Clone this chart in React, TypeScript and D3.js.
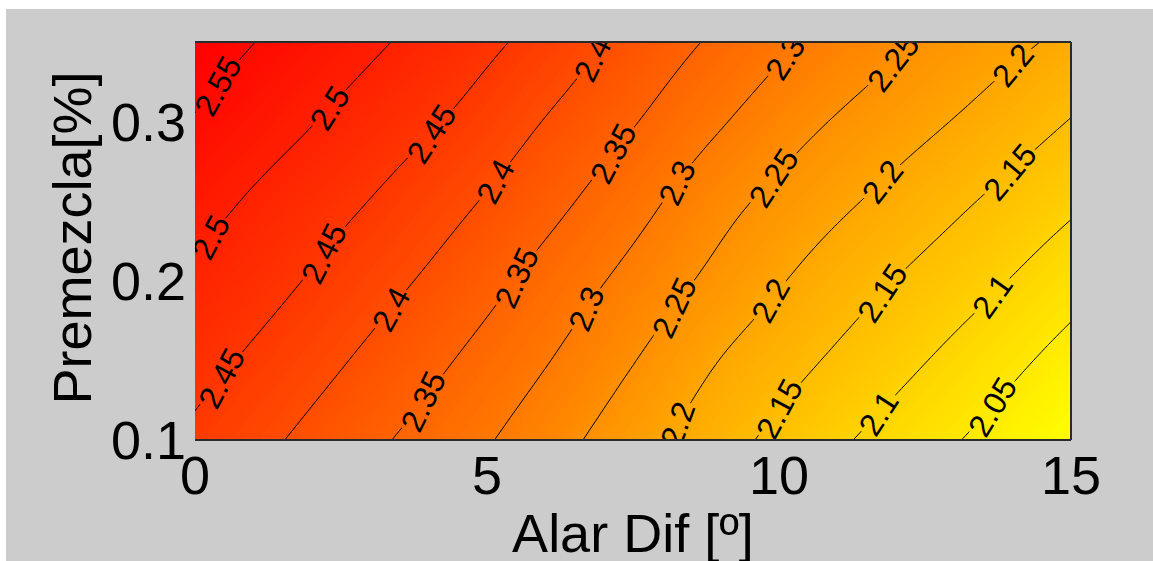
import React, { useMemo } from "react";
import * as d3 from "d3";

// Grid: Alar Dif (x) columns, Premezcla (y) rows
const xValues = [0, 1.5, 3, 4.5, 6, 7.5, 9, 10.5, 12, 13.5, 15];
const yValues = [0.1, 0.15, 0.2, 0.25, 0.3, 0.35];
const zRows = [
  [2.44, 2.401, 2.36, 2.319, 2.272, 2.22, 2.169, 2.122, 2.08, 2.04, 2.0],
  [2.467, 2.43, 2.39, 2.348, 2.303, 2.252, 2.199, 2.156, 2.115, 2.074, 2.032],
  [2.492, 2.458, 2.42, 2.379, 2.333, 2.285, 2.235, 2.189, 2.149, 2.111, 2.07],
  [2.518, 2.483, 2.449, 2.41, 2.366, 2.318, 2.266, 2.223, 2.185, 2.147, 2.109],
  [2.547, 2.513, 2.479, 2.443, 2.398, 2.353, 2.304, 2.259, 2.222, 2.186, 2.148],
  [2.572, 2.54, 2.508, 2.473, 2.432, 2.385, 2.34, 2.296, 2.258, 2.222, 2.188],
];
const contourLevels = [2.05, 2.1, 2.15, 2.2, 2.25, 2.3, 2.35, 2.4, 2.45, 2.5, 2.55];
const xTicks = [0, 5, 10, 15];
const yTicks = [0.1, 0.2, 0.3];
const xLabel = "Alar Dif [º]";
const yLabel = "Premezcla[%]";
// contour label spots (level, x, y) in data units
const labelSpots = [
  { level: 2.55, x: 0.43, y: 0.321 },
  { level: 2.5, x: 2.35, y: 0.307 },
  { level: 2.5, x: 0.29, y: 0.228 },
  { level: 2.45, x: 4.11, y: 0.29 },
  { level: 2.45, x: 2.19, y: 0.216 },
  { level: 2.45, x: 0.51, y: 0.138 },
  { level: 2.4, x: 6.93, y: 0.335 },
  { level: 2.4, x: 5.27, y: 0.259 },
  { level: 2.4, x: 3.34, y: 0.182 },
  { level: 2.35, x: 7.23, y: 0.278 },
  { level: 2.35, x: 5.62, y: 0.198 },
  { level: 2.35, x: 3.94, y: 0.122 },
  { level: 2.3, x: 10.14, y: 0.339 },
  { level: 2.3, x: 8.36, y: 0.259 },
  { level: 2.3, x: 6.76, y: 0.181 },
  { level: 2.25, x: 12.02, y: 0.334 },
  { level: 2.25, x: 9.97, y: 0.261 },
  { level: 2.25, x: 8.27, y: 0.182 },
  { level: 2.2, x: 14.08, y: 0.334 },
  { level: 2.2, x: 11.82, y: 0.261 },
  { level: 2.2, x: 9.85, y: 0.188 },
  { level: 2.2, x: 8.3, y: 0.109 },
  { level: 2.15, x: 13.96, y: 0.268 },
  { level: 2.15, x: 11.85, y: 0.19 },
  { level: 2.15, x: 9.98, y: 0.119 },
  { level: 2.1, x: 13.7, y: 0.19 },
  { level: 2.1, x: 11.73, y: 0.116 },
  { level: 2.05, x: 13.73, y: 0.119 },
];

const W = 1153;
const H = 561;
const M = { left: 195, right: 1071, top: 42, bottom: 440 };
const FONT = "'Liberation Sans', Arial, Helvetica, sans-serif";
const NX = 301;
const NY = 101;
const LABEL_FS = 32;

function cell(r: number, c: number): number {
  const R = zRows.length, C = zRows[0].length;
  if (r < 0) return 2 * cell(0, c) - cell(1, c);
  if (r >= R) return 2 * cell(R - 1, c) - cell(R - 2, c);
  if (c < 0) return 2 * cell(r, 0) - cell(r, 1);
  if (c >= C) return 2 * cell(r, C - 1) - cell(r, C - 2);
  return zRows[r][c];
}
function cr(p0: number, p1: number, p2: number, p3: number, t: number) {
  return 0.5 * (2 * p1 + (-p0 + p2) * t + (2 * p0 - 5 * p1 + 4 * p2 - p3) * t * t + (-p0 + 3 * p1 - 3 * p2 + p3) * t * t * t);
}
function sample(rf: number, cf: number) {
  const R = zRows.length, C = zRows[0].length;
  rf = Math.max(0, Math.min(R - 1, rf));
  cf = Math.max(0, Math.min(C - 1, cf));
  const r0 = Math.min(Math.floor(rf), R - 2);
  const c0 = Math.min(Math.floor(cf), C - 2);
  const tr = rf - r0, tc = cf - c0;
  const rowVals = [-1, 0, 1, 2].map((dr) =>
    cr(cell(r0 + dr, c0 - 1), cell(r0 + dr, c0), cell(r0 + dr, c0 + 1), cell(r0 + dr, c0 + 2), tc)
  );
  return cr(rowVals[0], rowVals[1], rowVals[2], rowVals[3], tr);
}

function labelText(v: number) {
  return String(+v.toFixed(2));
}

export default function App() {
  const x = d3.scaleLinear().domain([xValues[0], xValues[xValues.length - 1]]).range([M.left, M.right]);
  const y = d3.scaleLinear().domain([yValues[0], yValues[yValues.length - 1]]).range([M.bottom, M.top]);
  const zmin = d3.min(zRows.flat()) as number;
  const zmax = d3.max(zRows.flat()) as number;
  const color = d3.scaleLinear<string>().domain([zmin, zmax]).range(["#ffff00", "#ff0000"]);

  const { fills, lines, labels } = useMemo(() => {
    const values: number[] = new Array(NX * NY);
    for (let j = 0; j < NY; j++) {
      const rf = (j / (NY - 1)) * (yValues.length - 1);
      for (let i = 0; i < NX; i++) {
        const cf = (i / (NX - 1)) * (xValues.length - 1);
        values[j * NX + i] = sample(rf, cf);
      }
    }
    const x0 = xValues[0], x1 = xValues[xValues.length - 1];
    const y0 = yValues[0], y1 = yValues[yValues.length - 1];
    const gx = (c: number) => x(x0 + ((c - 0.5) / (NX - 1)) * (x1 - x0));
    const gy = (c: number) => y(y0 + ((c - 0.5) / (NY - 1)) * (y1 - y0));
    const zAtPixel = (px: number, py: number) => {
      const xd = x.invert(px), yd = y.invert(py);
      const cf = ((xd - x0) / (x1 - x0)) * (xValues.length - 1);
      const rf = ((yd - y0) / (y1 - y0)) * (yValues.length - 1);
      return sample(rf, cf);
    };
    const proj = d3.geoTransform({
      point(px: number, py: number) {
        (this as any).stream.point(gx(px), gy(py));
      },
    });
    const path = d3.geoPath(proj);
    const gen = d3.contours().size([NX, NY]);
    const step = 0.004;
    const th = d3.range(zmin, zmax, step);
    const fills = th.map((t) => ({ d: path(gen.contour(values, t) as any) || "", fill: color(t + step / 2) }));
    const lineGeoms = contourLevels.map((lv) => ({ level: lv, geom: gen.contour(values, lv) }));
    const lines = lineGeoms.map((g) => ({ level: g.level, d: path(g.geom as any) || "" }));

    const labels = labelSpots.map((s) => {
      const g = lineGeoms.find((l) => Math.abs(l.level - s.level) < 1e-9)!;
      const tx = x(s.x), ty = y(s.y);
      let best = { d: Infinity, px: tx, py: ty };
      for (const poly of g.geom.coordinates) {
        for (const ring of poly) {
          for (const p of ring) {
            const px = gx(p[0]), py = gy(p[1]);
            if (px < M.left + 1 || px > M.right - 1 || py < M.top + 1 || py > M.bottom - 1) continue;
            const dd = (px - tx) ** 2 + (py - ty) ** 2;
            if (dd < best.d) best = { d: dd, px, py };
          }
        }
      }
      const h = 3;
      const dzx = zAtPixel(best.px + h, best.py) - zAtPixel(best.px - h, best.py);
      const dzy = zAtPixel(best.px, best.py + h) - zAtPixel(best.px, best.py - h);
      let ang = (Math.atan2(-dzx, dzy) * 180) / Math.PI;
      while (ang > 90) ang -= 180;
      while (ang < -90) ang += 180;
      ang = Math.max(-80, ang * 1.22);
      const txt = labelText(s.level);
      const fs = LABEL_FS;
      const w = txt.split("").reduce((acc, ch) => acc + (ch === "." ? 0.278 : 0.556), 0) * fs;
      return { txt, x: best.px, y: best.py, ang, w, fs };
    });
    return { fills, lines, labels };
  }, []);

  const pw = M.right - M.left;
  const ph = M.bottom - M.top;

  return (
    <svg width={W} height={H} style={{ position: "absolute", left: 0, top: 0, display: "block" }}>
      <defs>
        <clipPath id="plotClip">
          <rect x={M.left} y={M.top} width={pw} height={ph} />
        </clipPath>
        <mask id="labelMask" maskUnits="userSpaceOnUse" x={0} y={0} width={W} height={H}>
          <rect x={0} y={0} width={W} height={H} fill="white" />
          {labels.map((l, i) => (
            <rect
              key={i}
              x={-l.w / 2 - 2}
              y={-l.fs * 0.4}
              width={l.w + 4}
              height={l.fs * 0.8}
              fill="black"
              transform={`translate(${l.x},${l.y}) rotate(${l.ang})`}
            />
          ))}
        </mask>
      </defs>
      <rect x={0} y={0} width={W} height={H} fill="#ffffff" />
      <rect x={6} y={9} width={W - 6} height={H - 9} fill="#cccccc" />

      <g clipPath="url(#plotClip)">
        <rect x={M.left} y={M.top} width={pw} height={ph} fill={color(zmin)} />
        {fills.map((f, i) => (
          <path key={i} d={f.d} fill={f.fill} stroke="none" />
        ))}
        <g mask="url(#labelMask)">
          {lines.map((l, i) => (
            <path key={i} d={l.d} fill="none" stroke="#000" strokeWidth={1} />
          ))}
        </g>
        {labels.map((l, i) => (
          <text
            key={i}
            transform={`translate(${l.x},${l.y}) rotate(${l.ang})`}
            textAnchor="middle"
            dy="0.36em"
            fontFamily={FONT}
            fontSize={l.fs}
            fill="#000"
          >
            {l.txt}
          </text>
        ))}
      </g>

      {/* axes frame */}
      <line x1={M.left} x2={M.right} y1={M.top} y2={M.top} stroke="#2a2a2a" strokeWidth={2} />
      <line x1={M.right} x2={M.right} y1={M.top} y2={M.bottom} stroke="#2a2a2a" strokeWidth={2} />
      <line x1={M.left} x2={M.right} y1={M.bottom} y2={M.bottom} stroke="#2a2a2a" strokeWidth={2} />

      {xTicks.map((t) => (
        <text key={t} x={x(t)} y={494} textAnchor="middle" fontFamily={FONT} fontSize={54} fill="#000">
          {t}
        </text>
      ))}
      {yTicks.map((t) => (
        <text key={t} x={186} y={y(t) + 19} textAnchor="end" fontFamily={FONT} fontSize={54} fill="#000">
          {t}
        </text>
      ))}
      <text x={(M.left + M.right) / 2} y={552} textAnchor="middle" fontFamily={FONT} fontSize={54} fill="#000">
        {xLabel}
      </text>
      <text
        transform={`translate(91,${(M.top + M.bottom) / 2 - 3}) rotate(-90)`}
        textAnchor="middle"
        fontFamily={FONT}
        fontSize={54}
        fill="#000"
      >
        {yLabel}
      </text>
    </svg>
  );
}
